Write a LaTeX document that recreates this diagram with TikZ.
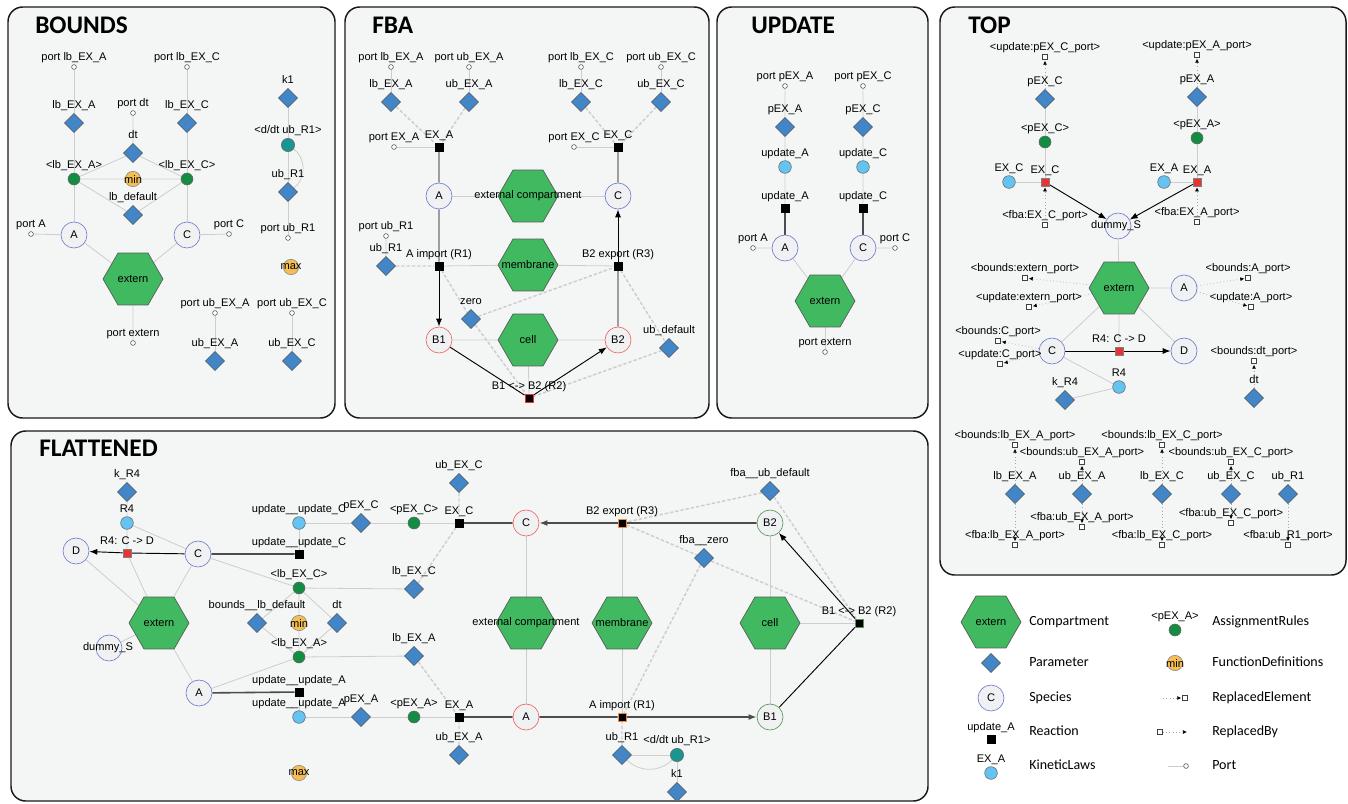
\documentclass[tikz,border=0pt]{standalone}
\usepackage{fontspec}
\setmainfont{Liberation Sans}
\newfontfamily\carl{Carlito}
\usetikzlibrary{shapes.geometric,arrows.meta}
\definecolor{panelcol}{RGB}{244,246,246}
\definecolor{compgreen}{RGB}{64,185,96}
\definecolor{parblue}{RGB}{66,134,200}
\definecolor{specfill}{RGB}{240,241,242}
\definecolor{specdraw}{RGB}{110,125,205}
\definecolor{specred}{RGB}{240,100,100}
\definecolor{specgreen}{RGB}{90,150,90}
\definecolor{asgncol}{RGB}{20,140,65}
\definecolor{klcol}{RGB}{100,195,240}
\definecolor{fdcol}{RGB}{245,190,85}
\definecolor{tealcol}{RGB}{25,150,145}
\definecolor{rxnred}{RGB}{235,50,50}
\definecolor{orangeb}{RGB}{240,140,60}
\definecolor{edgegray}{RGB}{205,205,205}
\newcommand\mylf{\fontsize{8.3}{10}\selectfont}
\newcommand\mytf{\carl\bfseries\fontsize{19}{22}\selectfont}
\newcommand\mylegf{\carl\fontsize{10.5}{12}\selectfont}
\pgfdeclarelayer{pnl}\pgfdeclarelayer{edges}\pgfsetlayers{pnl,edges,main}
\tikzset{
 lb/.style={font=\mylf, inner sep=1pt, text height=6.1pt, text depth=1.9pt},
 lab/.style={label={[lb]above:{#1}}},
 lbc/.style={font=\mylf, inner sep=0pt},
 param/.style={diamond, draw=black!65, fill=parblue, minimum size=14.5pt, inner sep=0pt, line width=0.4pt},
 spec/.style={circle, draw=specdraw, fill=specfill, minimum size=19.5pt, inner sep=0pt, font=\mylf, line width=0.5pt},
 specR/.style={spec, draw=specred},
 specG/.style={spec, draw=specgreen},
 asgn/.style={circle, draw=black!60, fill=asgncol, minimum size=9pt, inner sep=0pt, line width=0.4pt},
 kl/.style={circle, draw=black!60, fill=klcol, minimum size=9.5pt, inner sep=0pt, line width=0.4pt},
 fd/.style={circle, draw=black!50, fill=fdcol, minimum size=11.5pt, inner sep=0pt, line width=0.4pt},
 tl/.style={circle, draw=black!60, fill=tealcol, minimum size=10pt, inner sep=0pt, line width=0.4pt},
 rxn/.style={rectangle, fill=black, draw=black, minimum size=6pt, inner sep=0pt, line width=0.4pt},
 rxnR/.style={rxn, fill=rxnred, draw=black!50},
 rxnRb/.style={rxn, draw=rxnred, line width=0.7pt},
 rxnO/.style={rxn, draw=orangeb, line width=0.7pt},
 rxnG/.style={rxn, draw=specgreen, line width=0.7pt},
 port/.style={circle, draw=black!75, fill=white, minimum size=3.6pt, inner sep=0pt, line width=0.4pt},
 rport/.style={rectangle, draw=black!75, fill=white, minimum size=3.6pt, inner sep=0pt, line width=0.4pt},
 hex/.style={regular polygon, regular polygon sides=6, minimum size=45pt, inner sep=0pt, fill=compgreen, draw=black!65, line width=0.5pt},
 ge/.style={draw=edgegray, line width=0.6pt},
 de/.style={draw=edgegray, line width=1.1pt, dash pattern=on 2.5pt off 1.5pt},
 be/.style={draw=black, line width=0.7pt},
 dk/.style={draw=black!70, line width=1.2pt},
 arr/.style={-{Latex[length=6pt,width=4.5pt]}},
 re/.style={draw=gray!70, dotted, line width=0.5pt, -{Latex[length=3pt,width=3pt,color=black]}, shorten >=0.8pt},
 panel/.style={draw=black!90, line width=1.1pt, fill=panelcol, rounded corners=11pt},
 ptitle/.style={font=\mytf, inner sep=0pt, anchor=west},
 legt/.style={font=\mylegf, inner sep=0pt, anchor=west, text height=7pt, text depth=2pt},
}
\newcommand\hexn[4]{\node[hex] (#1) at (#2,#3) {}; \node[lbc] (#1t) at (#1.center) {#4};}
\newcommand\fdn[4]{\node[fd] (#1) at (#2,#3) {}; \node[lbc] (#1t) at (#1.center) {#4};}
\begin{document}
\begin{tikzpicture}[x=0.75pt,y=-0.75pt]
\useasboundingbox (0,0) rectangle (1348,803);
\begin{pgfonlayer}{pnl}
\draw[panel] (8,7) rectangle (335,418);
\draw[panel] (345,7) rectangle (709,418);
\draw[panel] (717,7) rectangle (928,418);
\draw[panel] (940,7) rectangle (1346,575);
\draw[panel] (11,431) rectangle (928,801);
\end{pgfonlayer}
\node[ptitle] (tB) at (35,25) {BOUNDS};
\node[ptitle] (tF) at (372,25) {FBA};
\node[ptitle] (tU) at (751,25) {UPDATE};
\node[ptitle] (tT) at (968,25) {TOP};
\node[ptitle] (tL) at (39,448) {FLATTENED};

% ===== BOUNDS =====
\node[port,lab={port lb\_EX\_A}] (b_plbA) at (74,67) {};
\node[param,lab={lb\_EX\_A}] (b_lbA) at (74,123) {};
\node[port,lab={port lb\_EX\_C}] (b_plbC) at (187,67) {};
\node[param,lab={lb\_EX\_C}] (b_lbC) at (187,123) {};
\node[port,lab={port dt}] (b_pdt) at (133,113) {};
\node[param,lab={dt}] (b_dt) at (133,153) {};
\node[asgn,lab={<lb\_EX\_A>}] (b_alA) at (74,179) {};
\node[asgn,lab={<lb\_EX\_C>}] (b_alC) at (187,179) {};
\fdn{b_min}{133}{179}{min}
\node[param,lab={lb\_default}] (b_lbd) at (133,215) {};
\node[spec] (b_A) at (74,235) {A};
\node[spec] (b_C) at (187,235) {C};
\node[port,lab={port A}] (b_pA) at (31,234) {};
\node[port,lab={port C}] (b_pC) at (229,234) {};
\hexn{b_ext}{133}{279}{extern}
\node[port,lab={port extern}] (b_pext) at (133,343) {};
\node[param,lab={k1}] (b_k1) at (288,98) {};
\node[tl,lab={<d/dt ub\_R1>}] (b_dub) at (288,145) {};
\node[param,lab={ub\_R1}] (b_ubR1) at (288,192) {};
\node[port,lab={port ub\_R1}] (b_pubR1) at (288,238) {};
\fdn{b_max}{291}{267}{max}
\node[port,lab={port ub\_EX\_A}] (b_pubA) at (215,313) {};
\node[param,lab={ub\_EX\_A}] (b_ubA) at (215,361) {};
\node[port,lab={port ub\_EX\_C}] (b_pubC) at (292,313) {};
\node[param,lab={ub\_EX\_C}] (b_ubC) at (292,361) {};

% ===== FBA =====
\node[port,lab={port lb\_EX\_A}] (f_plbA) at (391,67) {};
\node[param,lab={lb\_EX\_A}] (f_lbA) at (391,102) {};
\node[port,lab={port ub\_EX\_A}] (f_pubA) at (469,67) {};
\node[param,lab={ub\_EX\_A}] (f_ubA) at (469,102) {};
\node[port,lab={port lb\_EX\_C}] (f_plbC) at (581,67) {};
\node[param,lab={lb\_EX\_C}] (f_lbC) at (581,102) {};
\node[port,lab={port ub\_EX\_C}] (f_pubC) at (661,67) {};
\node[param,lab={ub\_EX\_C}] (f_ubC) at (661,102) {};
\node[rxn,lab={EX\_A}] (f_EXA) at (439,147) {};
\node[port,lab={port EX\_A}] (f_pEXA) at (394,147) {};
\node[rxn,lab={EX\_C}] (f_EXC) at (618,147) {};
\node[port,lab={port EX\_C}] (f_pEXC) at (574,147) {};
\node[spec] (f_A) at (439,196) {A};
\node[spec] (f_C) at (618,196) {C};
\hexn{f_ec}{528}{196}{external compartment}
\node[port,lab={port ub\_R1}] (f_pubR1) at (386,236) {};
\node[param,lab={ub\_R1}] (f_ubR1) at (386,266) {};
\node[rxn,lab={A import (R1)}] (f_R1) at (439,266) {};
\hexn{f_mem}{528}{265}{membrane}
\node[rxn,lab={B2 export (R3)}] (f_R3) at (618,266) {};
\node[param,lab={zero}] (f_zero) at (471,319) {};
\node[param,lab={ub\_default}] (f_ubd) at (669,348) {};
\node[specR] (f_B1) at (439,340) {B1};
\node[specR] (f_B2) at (618,340) {B2};
\hexn{f_cell}{528}{340}{cell}
\node[rxnRb,lab={B1 <-> B2 (R2)}] (f_R2) at (529,398) {};

% ===== UPDATE =====
\node[port,lab={port pEX\_A}] (u_ppA) at (785,86) {};
\node[param,lab={pEX\_A}] (u_pA) at (785,127) {};
\node[kl,lab={update\_A}] (u_klA) at (785,167) {};
\node[rxn,lab={update\_A}] (u_rA) at (785,208) {};
\node[spec] (u_A) at (785,248) {A};
\node[port,lab={port A}] (u_portA) at (753,248) {};
\node[port,lab={port pEX\_C}] (u_ppC) at (863,86) {};
\node[param,lab={pEX\_C}] (u_pC) at (863,127) {};
\node[kl,lab={update\_C}] (u_klC) at (863,167) {};
\node[rxn,lab={update\_C}] (u_rC) at (863,208) {};
\node[spec] (u_C) at (863,248) {C};
\node[port,lab={port C}] (u_portC) at (895,248) {};
\hexn{u_ext}{825}{301}{extern}
\node[port,lab={port extern}] (u_pext) at (825,352) {};

% ===== TOP =====
\node[rport,lab={<update:pEX\_C\_port>}] (t_upC) at (1045,57) {};
\node[param,lab={pEX\_C}] (t_pC) at (1045,99) {};
\node[asgn,lab={<pEX\_C>}] (t_apC) at (1045,142) {};
\node[rxnR,lab={EX\_C}] (t_EXC) at (1045,182) {};
\node[kl,lab={EX\_C}] (t_klC) at (1009,182) {};
\node[rport,lab={<fba:EX\_C\_port>}] (t_fC) at (1045,225) {};
\node[rport,lab={<update:pEX\_A\_port>}] (t_upA) at (1197,55) {};
\node[param,lab={pEX\_A}] (t_pA) at (1197,97) {};
\node[asgn,lab={<pEX\_A>}] (t_apA) at (1197,138) {};
\node[rxnR,lab={EX\_A}] (t_EXA) at (1197,182) {};
\node[kl,lab={EX\_A}] (t_klA) at (1164,182) {};
\node[rport,lab={<fba:EX\_A\_port>}] (t_fA) at (1197,222) {};
\node[spec] (t_dS) at (1118,226) {};
\node[lbc] (t_dSt) at (1116,226) {dummy\_S};
\hexn{t_ext}{1119}{288}{extern}
\node[spec] (t_A) at (1184,288) {A};
\node[rport,lab={<bounds:extern\_port>}] (t_bext) at (1025,278) {};
\node[rport,lab={<update:extern\_port>}] (t_uext) at (1029,307) {};
\node[rport,lab={<bounds:A\_port>}] (t_bA) at (1248,278) {};
\node[rport,lab={<update:A\_port>}] (t_uA) at (1251,307) {};
\node[spec] (t_C) at (1052,351) {C};
\node[rxnR,lab={R4: C -> D}] (t_R4) at (1119,351) {};
\node[spec] (t_D) at (1184,351) {D};
\node[rport,lab={<bounds:C\_port>}] (t_bC) at (998,341) {};
\node[rport,lab={<update:C\_port>}] (t_uC) at (1000,364) {};
\node[kl,lab={R4}] (t_klR4) at (1119,387) {};
\node[param,lab={k\_R4}] (t_kR4) at (1065,400) {};
\node[rport,lab={<bounds:dt\_port>}] (t_bdt) at (1254,361) {};
\node[param,lab={dt}] (t_dt) at (1254,398) {};
\node[rport,lab={<bounds:lb\_EX\_A\_port>}] (t_blbA) at (1015,445) {};
\node[param,lab={lb\_EX\_A}] (t_lbA) at (1015,494) {};
\node[rport,lab={<fba:lb\_EX\_A\_port>}] (t_flbA) at (1015,545) {};
\node[rport,lab={<bounds:ub\_EX\_A\_port>}] (t_bubA) at (1082,462) {};
\node[param,lab={ub\_EX\_A}] (t_ubA) at (1082,494) {};
\node[rport,lab={<fba:ub\_EX\_A\_port>}] (t_fubA) at (1082,527) {};
\node[rport,lab={<bounds:lb\_EX\_C\_port>}] (t_blbC) at (1162,445) {};
\node[param,lab={lb\_EX\_C}] (t_lbC) at (1162,494) {};
\node[rport,lab={<fba:lb\_EX\_C\_port>}] (t_flbC) at (1162,545) {};
\node[rport,lab={<bounds:ub\_EX\_C\_port>}] (t_bubC) at (1231,462) {};
\node[param,lab={ub\_EX\_C}] (t_ubC) at (1231,494) {};
\node[rport,lab={<fba:ub\_EX\_C\_port>}] (t_fubC) at (1231,523) {};
\node[param,lab={ub\_R1}] (t_ubR1) at (1288,494) {};
\node[rport,lab={<fba:ub\_R1\_port>}] (t_fubR1) at (1288,545) {};

% ===== FLATTENED =====
\node[param,lab={k\_R4}] (l_kR4) at (127,492) {};
\node[kl,lab={R4}] (l_klR4) at (127,523) {};
\node[spec] (l_D) at (76,551) {D};
\node[rxnR,lab={R4: C -> D}] (l_R4) at (127,553) {};
\node[spec] (l_C) at (198,554) {C};
\hexn{l_ext}{159}{623}{extern}
\node[spec] (l_dS) at (109,648) {};
\node[lbc] (l_dSt) at (108,648) {dummy\_S};
\node[spec] (l_A) at (199,693) {A};
\node[kl,lab={update\_\_update\_C}] (l_kluC) at (299,523) {};
\node[rxn,lab={update\_\_update\_C}] (l_ruC) at (299,554) {};
\node[asgn,lab={<lb\_EX\_C>}] (l_alC) at (299,588) {};
\node[param,lab={bounds\_\_lb\_default}] (l_lbd) at (257,623) {};
\fdn{l_min}{299}{623}{min}
\node[param,lab={dt}] (l_dt) at (337,623) {};
\node[asgn,lab={<lb\_EX\_A>}] (l_alA) at (299,657) {};
\node[rxn,lab={update\_\_update\_A}] (l_ruA) at (299,692) {};
\node[kl,lab={update\_\_update\_A}] (l_kluA) at (299,717) {};
\fdn{l_max}{299}{773}{max}
\node[param,lab={pEX\_C}] (l_pC) at (361,523) {};
\node[asgn,lab={<pEX\_C>}] (l_apC) at (414,523) {};
\node[rxn,lab={EX\_C}] (l_EXC) at (459,523) {};
\node[param,lab={ub\_EX\_C}] (l_ubC) at (459,483) {};
\node[param,lab={lb\_EX\_C}] (l_lbC) at (414,589) {};
\node[param,lab={lb\_EX\_A}] (l_lbA) at (414,656) {};
\node[param,lab={pEX\_A}] (l_pA) at (361,717) {};
\node[asgn,lab={<pEX\_A>}] (l_apA) at (414,717) {};
\node[rxn,lab={EX\_A}] (l_EXA) at (459,717) {};
\node[param,lab={ub\_EX\_A}] (l_ubA) at (459,755) {};
\node[specR] (l_Cs) at (526,523) {C};
\hexn{l_ec}{526}{623}{external compartment}
\node[specR] (l_As) at (526,717) {A};
\node[rxnO,lab={B2 export (R3)}] (l_R3) at (622,523) {};
\hexn{l_mem}{622}{623}{membrane}
\node[rxnO,lab={A import (R1)}] (l_R1) at (622,717) {};
\node[param,lab={fba\_\_zero}] (l_zero) at (704,558) {};
\node[param,lab={fba\_\_ub\_default}] (l_ubd) at (770,491) {};
\node[specG] (l_B2) at (770,523) {B2};
\hexn{l_cell}{770}{623}{cell}
\node[specG] (l_B1) at (770,717) {B1};
\node[rxnG,lab={B1 <-> B2 (R2)}] (l_R2) at (859,623) {};
\node[param,lab={ub\_R1}] (l_ubR1) at (622,755) {};
\node[tl,lab={<d/dt ub\_R1>}] (l_dub) at (677,755) {};
\node[param,lab={k1}] (l_k1) at (677,792) {};

% ===== LEGEND =====
\hexn{g_hex}{991}{622}{extern}
\node[param] (g_par) at (991,663) {};
\node[spec] (g_sp) at (991,698) {C};
\node[rxn,lab={update\_A}] (g_rx) at (991,739) {};
\node[kl,lab={EX\_A}] (g_kl) at (991,773) {};
\node[asgn,lab={<pEX\_A>}] (g_as) at (1175,630) {};
\fdn{g_fd}{1175}{663}{min}
\coordinate (g_re0) at (1163,698);
\node[rport] (g_re1) at (1185,698) {};
\node[rport] (g_rb0) at (1160,732) {};
\coordinate (g_rb1) at (1188,732);
\coordinate (g_p0) at (1168,766);
\node[port] (g_p1) at (1186,766) {};
\node[legt] (g_t1) at (1029,622) {Compartment};
\node[legt] (g_t2) at (1029,663) {Parameter};
\node[legt] (g_t3) at (1029,698) {Species};
\node[legt] (g_t4) at (1029,732) {Reaction};
\node[legt] (g_t5) at (1029,766) {KineticLaws};
\node[legt] (g_t6) at (1212,622) {AssignmentRules};
\node[legt] (g_t7) at (1212,663) {FunctionDefinitions};
\node[legt] (g_t8) at (1212,698) {ReplacedElement};
\node[legt] (g_t9) at (1212,732) {ReplacedBy};
\node[legt] (g_t10) at (1212,766) {Port};

\begin{pgfonlayer}{edges}
% BOUNDS
\draw[ge] (b_plbA)--(b_lbA) (b_lbA)--(b_alA) (b_alA)--(b_A);
\draw[ge] (b_plbC)--(b_lbC) (b_lbC)--(b_alC) (b_alC)--(b_C);
\draw[ge] (b_pdt)--(b_dt) (b_dt)--(b_alA) (b_dt)--(b_alC) (b_alA)--(b_alC) (b_alA)--(b_lbd) (b_alC)--(b_lbd);
\draw[ge] (b_pA)--(b_A) (b_pC)--(b_C) (b_A)--(b_ext) (b_C)--(b_ext) (b_ext)--(b_pext);
\draw[ge] (b_k1)--(b_dub) (b_dub)--(b_ubR1) (b_ubR1)--(b_pubR1);
\draw[ge] (b_dub) to[bend left=55] (b_ubR1);
\draw[ge] (b_pubA)--(b_ubA) (b_pubC)--(b_ubC);
% FBA
\draw[ge] (f_plbA)--(f_lbA) (f_pubA)--(f_ubA) (f_plbC)--(f_lbC) (f_pubC)--(f_ubC);
\draw[ge] (f_pEXA)--(f_EXA) (f_pEXC)--(f_EXC) (f_A)--(f_ec) (f_ec)--(f_C);
\draw[ge] (f_R1)--(f_mem) (f_mem)--(f_R3) (f_pubR1)--(f_ubR1);
\draw[ge] (f_B1)--(f_cell) (f_cell)--(f_B2) (f_cell)--(f_R2);
\draw[de] (f_lbA)--(f_EXA) (f_ubA)--(f_EXA) (f_lbC)--(f_EXC) (f_ubC)--(f_EXC);
\draw[de] (f_ubR1)--(f_R1) (f_R1)--(f_zero) (f_zero)--(f_R2) (f_zero)--(f_R3) (f_R3)--(f_ubd) (f_ubd)--(f_R2);
\draw[be] (f_EXA)--(f_A) (f_EXC)--(f_C) (f_A)--(f_R1) (f_B2)--(f_R3) (f_B1)--(f_R2);
\draw[be,arr] (f_R1)--(f_B1);
\draw[be,arr] (f_R3)--(f_C);
\draw[be,arr] (f_R2)--(f_B2);
% UPDATE
\draw[ge] (u_ppA)--(u_pA) (u_pA)--(u_klA) (u_klA)--(u_rA) (u_portA)--(u_A) (u_A)--(u_ext);
\draw[ge] (u_ppC)--(u_pC) (u_pC)--(u_klC) (u_klC)--(u_rC) (u_portC)--(u_C) (u_C)--(u_ext);
\draw[ge] (u_ext)--(u_pext);
\draw[dk] (u_rA)--(u_A) (u_rC)--(u_C);
% TOP
\draw[ge] (t_pC)--(t_apC) (t_apC)--(t_EXC) (t_klC)--(t_EXC);
\draw[ge] (t_pA)--(t_apA) (t_apA)--(t_EXA) (t_klA)--(t_EXA);
\draw[ge] (t_dS)--(t_ext) (t_ext)--(t_A) (t_ext)--(t_C) (t_ext)--(t_D) (t_ext)--(t_R4);
\draw[ge] (t_C)--(t_klR4) (t_kR4)--(t_klR4);
\draw[be,arr] (t_EXC)--(t_dS);
\draw[be,arr] (t_EXA)--(t_dS);
\draw[be] (t_C)--(t_R4);
\draw[be,arr] (t_R4)--(t_D);
\draw[re] (t_pC)--(t_upC);
\draw[re] (t_pA)--(t_upA);
\draw[re] (t_fC)--(t_EXC);
\draw[re] (t_fA)--(t_EXA);
\draw[re] (t_ext)--(t_bext);
\draw[re] (t_ext)--(t_uext);
\draw[re] (t_A)--(t_bA);
\draw[re] (t_A)--(t_uA);
\draw[re] (t_C)--(t_bC);
\draw[re] (t_C)--(t_uC);
\draw[re] (t_dt)--(t_bdt);
\draw[re] (t_lbA)--(t_blbA);
\draw[re] (t_ubA)--(t_bubA);
\draw[re] (t_lbC)--(t_blbC);
\draw[re] (t_ubC)--(t_bubC);
\draw[re] (t_lbA)--(t_flbA);
\draw[re] (t_ubA)--(t_fubA);
\draw[re] (t_lbC)--(t_flbC);
\draw[re] (t_ubC)--(t_fubC);
\draw[re] (t_ubR1)--(t_fubR1);
% FLATTENED
\draw[ge] (l_kR4)--(l_klR4) (l_klR4)--(l_R4) (l_klR4)--(l_C);
\draw[ge] (l_D)--(l_ext) (l_R4)--(l_ext) (l_C)--(l_ext) (l_dS)--(l_ext) (l_ext)--(l_A);
\draw[ge] (l_kluC)--(l_ruC) (l_kluC)--(l_pC) (l_pC)--(l_apC) (l_apC)--(l_EXC);
\draw[ge] (l_C)--(l_alC) (l_alC)--(l_lbC) (l_alC)--(l_lbd) (l_alC)--(l_dt) (l_alC)--(l_alA);
\draw[ge] (l_alA)--(l_lbd) (l_alA)--(l_dt) (l_alA)--(l_lbA) (l_alA)--(l_A);
\draw[ge] (l_ruA)--(l_kluA) (l_kluA)--(l_pA) (l_pA)--(l_apA) (l_apA)--(l_EXA);
\draw[ge] (l_Cs)--(l_ec) (l_ec)--(l_As) (l_R3)--(l_mem) (l_mem)--(l_R1);
\draw[ge] (l_B2)--(l_cell) (l_cell)--(l_B1) (l_cell)--(l_R2);
\draw[ge] (l_ubR1)--(l_dub) (l_dub)--(l_k1);
\draw[ge] (l_ubR1) to[bend right=45] (l_dub);
\draw[de] (l_ubC)--(l_EXC) (l_lbC)--(l_EXC) (l_lbA)--(l_EXA) (l_ubA)--(l_EXA);
\draw[de] (l_ubd)--(l_R3) (l_ubd)--(l_R2) (l_R3)--(l_zero) (l_zero)--(l_R2) (l_zero)--(l_R1) (l_ubR1)--(l_R1);
\draw[dk] (l_C)--(l_ruC) (l_A)--(l_ruA) (l_EXC)--(l_Cs) (l_EXA)--(l_As) (l_As)--(l_R1) (l_B2)--(l_R3);
\draw[dk,arr] (l_R3)--(l_Cs);
\draw[dk,arr] (l_R1)--(l_B1);
\draw[be] (l_C)--(l_R4) (l_B1)--(l_R2);
\draw[be,arr] (l_R4)--(l_D);
\draw[be,arr] (l_R2)--(l_B2);
% LEGEND
\draw[re] (g_re0)--(g_re1);
\draw[re] (g_rb0)--(g_rb1);
\draw[ge] (g_p0)--(g_p1);
\end{pgfonlayer}
\end{tikzpicture}
\end{document}
